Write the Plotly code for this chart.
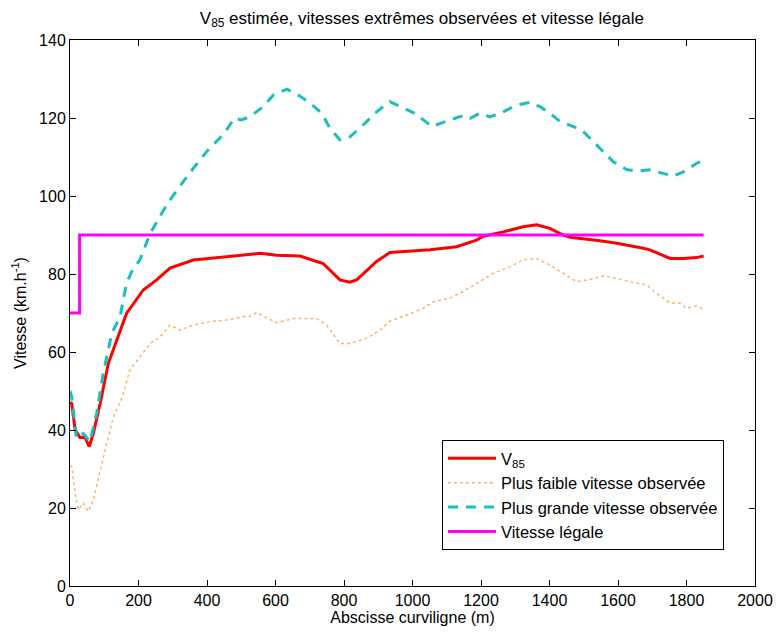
import plotly.graph_objects as go

# V85 estimée
v85_x = [0, 5, 15, 29, 44, 56, 68, 88, 112, 136, 165, 214, 253, 292, 360, 457, 525, 555, 603, 671, 739, 788, 817, 837,
         895, 934, 1051, 1129, 1187, 1207, 1265, 1323, 1362, 1401, 1440, 1460, 1547, 1596, 1674, 1693, 1752, 1791, 1830, 1850]
v85_y = [47, 46.8, 40, 38.1, 38.1, 35.7, 39.1, 46.8, 57.1, 63.1, 69.9, 75.9, 78.5, 81.5, 83.6, 84.4, 85.1, 85.3, 84.8, 84.6, 82.7, 78.5, 77.9, 78.5,
         83.2, 85.5, 86.2, 87, 88.7, 89.7, 90.8, 92.1, 92.6, 91.7, 90, 89.4, 88.5, 87.9, 86.6, 86.2, 84, 84, 84.2, 84.6]

# Plus faible vitesse observée
low_x = [0, 5, 15, 24, 39, 53, 68, 88, 107, 127, 151, 175, 204, 234, 263, 292, 321, 360, 409, 457, 506, 525, 545, 603, 652,
         720, 749, 788, 818, 866, 905, 934, 983, 1032, 1061, 1109, 1148, 1197, 1236, 1285, 1323, 1362, 1401, 1440, 1479,
         1518, 1557, 1596, 1635, 1684, 1713, 1752, 1781, 1800, 1830, 1850]
low_y = [31, 30.6, 23.8, 19.5, 21.2, 19.1, 22, 29.7, 36.6, 43.4, 48.1, 55.4, 58.8, 62.2, 63.9, 66.9, 65.6, 66.9, 67.8, 68.2, 69.1, 69.1, 70.1, 67.5, 68.6,
         68.6, 66.9, 62.2, 62.2, 63.5, 65.6, 67.9, 69.5, 71.2, 72.9, 73.8, 75.5, 78, 80.2, 81.9, 83.6, 84, 82.3, 80.2, 78,
         78.6, 79.5, 78.9, 78, 77.2, 75, 72.6, 72.5, 71.2, 71.8, 70.9]

# Plus grande vitesse observée
high_x = [0, 5, 19, 39, 58, 78, 97, 122, 146, 165, 180, 204, 234, 282, 300, 350, 400, 450, 480, 500, 525, 564, 594, 633,
          672, 701, 735, 759, 788, 818, 856, 895, 934, 964, 1002, 1032, 1056, 1109, 1148, 1168, 1197, 1226, 1265, 1304,
          1343, 1372, 1401, 1431, 1470, 1499, 1528, 1557, 1586, 1625, 1655, 1693, 1732, 1762, 1791, 1830, 1850]
high_y = [50, 48.5, 37.9, 39.1, 37, 44.3, 54.5, 64.8, 69, 77.6, 80.6, 83.6, 90.4, 97.7, 100, 106, 111.5, 116, 120, 119.5, 120.3, 122.9, 125.9, 127.4,
          125.6, 123.8, 121.2, 117.4, 114.4, 115.2, 118.2, 121.6, 124.2, 122.9, 121.4, 119.5, 117.8, 119.5, 120.6, 119.9, 121.2, 120.3, 121.6, 123.3,
          124, 122.9, 121.2, 119.1, 117.8, 116.5, 114, 111.4, 108.8, 106.8, 106.4, 106.7, 105.8, 105.1, 106.2, 108.4, 109.2]

# Vitesse légale
legal_x = [0, 28, 28, 1850]
legal_y = [70, 70, 90, 90]

fig = go.Figure()
fig.add_trace(go.Scatter(x=v85_x, y=v85_y, mode="lines", name="V<sub>85</sub>",
                         line=dict(color="#ff0000", width=3)))
fig.add_trace(go.Scatter(x=low_x, y=low_y, mode="lines", name="Plus faible vitesse observée",
                         line=dict(color="#ffb366", width=1.5, dash="dot")))
fig.add_trace(go.Scatter(x=high_x, y=high_y, mode="lines", name="Plus grande vitesse observée",
                         line=dict(color="#1bbfbf", width=3, dash="10px,8px")))
fig.add_trace(go.Scatter(x=legal_x, y=legal_y, mode="lines", name="Vitesse légale",
                         line=dict(color="#ff00ff", width=3)))

axis_common = dict(showline=True, linecolor="black", linewidth=1, mirror="ticks",
                   ticks="inside", ticklen=6, tickcolor="black", showgrid=False, zeroline=False,
                   automargin=False, tickfont=dict(size=16, color="black"))

fig.update_layout(
    width=775, height=625,
    margin=dict(l=62, r=28, t=32, b=47),
    paper_bgcolor="white", plot_bgcolor="white",
    font=dict(family="Liberation Sans, Arial, sans-serif", color="black", size=16),
    title=dict(text="V<sub>85</sub> estimée, vitesses extrêmes observées et vitesse légale",
               x=0.534, xanchor="center", xref="container", yref="container",
               y=1.0, yanchor="top", pad=dict(t=4, b=0, l=0, r=0), font=dict(size=17)),
    xaxis=dict(range=[0, 2000], tickvals=list(range(0, 2001, 200)),
               title=dict(text="Abscisse curviligne (m)", standoff=2, font=dict(size=16)), **axis_common),
    yaxis=dict(range=[0, 140], tickvals=list(range(0, 141, 20)),
               title=dict(text="Vitesse (km.h<sup>-1</sup>)", standoff=8, font=dict(size=16)), **axis_common),
    legend=dict(x=0.543, y=0.2674, xanchor="left", yanchor="top", bordercolor="black", borderwidth=1,
                bgcolor="white", font=dict(size=16.5), tracegroupgap=0, itemwidth=48),
    showlegend=True,
)

fig.write_html("out.html")
